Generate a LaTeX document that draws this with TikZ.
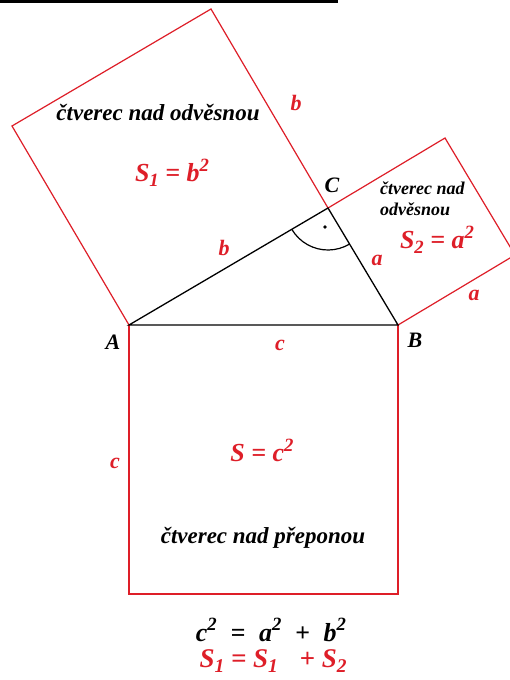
\documentclass[tikz,border=0pt]{standalone}
\usepackage{fontspec}
\setmainfont{Liberation Serif}
\usetikzlibrary{calc}
\definecolor{rd}{RGB}{222,30,40}
\newcommand\mylo[1]{\raisebox{-0.45ex}{\scalebox{0.72}{#1}}}
\newcommand\myup[1]{\raisebox{0.85ex}{\scalebox{0.72}{#1}}}
\tikzset{
  sq/.style={draw=rd, line width=1.2pt},
  tri/.style={draw=black, line width=1.3pt},
  big/.style={font=\fontsize{23}{25}\selectfont\bfseries\itshape, text=black, inner sep=0pt},
  small/.style={font=\fontsize{18}{21}\selectfont\bfseries\itshape, text=black, inner sep=0pt, align=left},
  formula/.style={font=\fontsize{26}{28}\selectfont\bfseries\itshape, text=rd, inner sep=0pt},
  lbl/.style={font=\fontsize{22}{24}\selectfont\bfseries\itshape, text=rd, inner sep=0pt},
  vtx/.style={font=\fontsize{22}{24}\selectfont\bfseries\itshape, text=black, inner sep=0pt},
}
\begin{document}
\begin{tikzpicture}[x=1pt,y=-1pt]
\useasboundingbox (0,0) rectangle (510,680);
\clip (0,0) rectangle (510,680);
\fill[white] (0,0) rectangle (510,680);
% cut-off title underline
\draw[line width=3pt] (0,1) -- (338,1);
% vertices
\coordinate (A) at (129,325);
\coordinate (B) at (398,325);
\coordinate (C) at (328,208);
\coordinate (P1) at (12,126);
\coordinate (P2) at (211,9);
\coordinate (Q1) at (445,138);
\coordinate (Q2) at (515,255);
\coordinate (R1) at (398,594);
\coordinate (R2) at (129,594);
% squares
\draw[sq] (A) -- (P1) -- (P2) -- (C);
\draw[sq] (C) -- (Q1) -- (Q2) -- (B);
\draw[sq] (A) -- (R2) -- (R1) -- (B);
% triangle
\draw[tri] (A) -- (B) -- (C) -- cycle;
% right angle mark
\draw[line width=1.2pt] ($(C)+(59.1:42)$) arc[start angle=59.1, end angle=149.5, radius=42];
\fill (325,227) circle (1.8pt);
% texts
\node[big] (t1) at (158,113) {čtverec nad odvěsnou};
\node[formula] (f1) at (172,173) {S\mylo{1} = b\myup{2}};
\node[lbl] (b1) at (296,103) {b};
\node[lbl] (b2) at (224,248) {b};
\node[vtx] (lC) at (332,185) {C};
\node[small, anchor=west] (t2) at (380,199) {čtverec nad\\odvěsnou};
\node[formula] (f2) at (437,240) {S\mylo{2} = a\myup{2}};
\node[lbl] (a1) at (377,260) {a};
\node[lbl] (a2) at (474,295) {a};
\node[vtx] (lB) at (415,340) {B};
\node[vtx] (lA) at (113,342) {A};
\node[lbl] (c1) at (280,345) {c};
\node[formula] (f3) at (262,450) {S = c\myup{2}};
\node[lbl] (c2) at (115,463) {c};
\node[big] (t3) at (263,538) {čtverec nad přeponou};
\node[big, font=\fontsize{26}{28}\selectfont\bfseries\itshape] (e1) at (271,630) {c\myup{2} \;=\; a\myup{2} \;+\; b\myup{2}};
\node[formula, font=\fontsize{27}{29}\selectfont\bfseries\itshape] (e2) at (273,661) {S\mylo{1} = S\mylo{1} \;\;+ S\mylo{2}};
\end{tikzpicture}
\end{document}
